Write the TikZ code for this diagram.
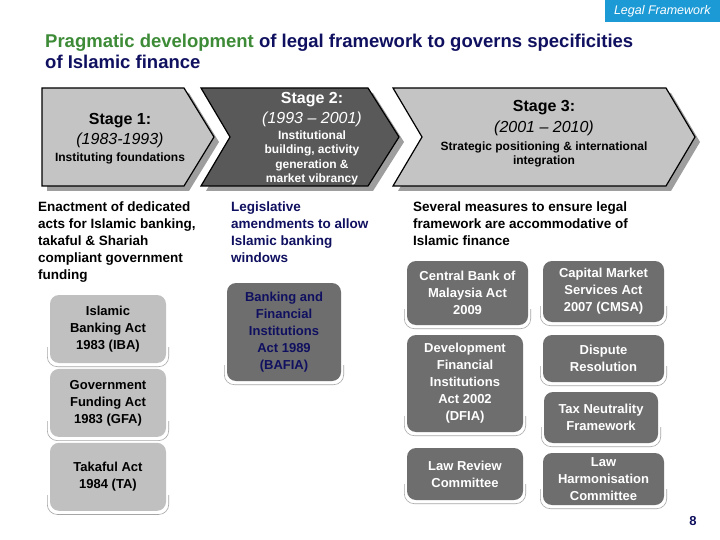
\documentclass[tikz,border=0pt]{standalone}
\usepackage{fontspec}
\setmainfont{Liberation Sans}
\usepackage{xcolor}
\usetikzlibrary{positioning, shadows, backgrounds}
\definecolor{navy}{RGB}{16,16,96}
\definecolor{leafgreen}{RGB}{61,139,55}
\definecolor{tagblue}{RGB}{28,154,214}
\definecolor{palegrey}{RGB}{196,196,196}
\definecolor{stonegrey}{RGB}{192,192,192}
\definecolor{midgrey}{RGB}{110,110,110}
\definecolor{darkgrey}{RGB}{89,89,89}

\begin{document}
\begin{tikzpicture}[x=1pt, y=-1pt, node distance=4.5pt]
    \tikzstyle{chevron} = [draw=black, line width=1.2pt, drop shadow={shadow xshift=5pt, shadow yshift=-5pt, fill=black!38, opacity=1}]
    \tikzstyle{stagetext} = [align=center, inner sep=0pt, font=\fontsize{16}{20}\selectfont]
    \tikzstyle{lead} = [anchor=north west, align=left, inner sep=0pt, font=\fontsize{13.5}{16.8}\selectfont\bfseries]
    \tikzstyle{act} = [rectangle, rounded corners=9pt, minimum width=116pt, minimum height=69pt, align=center, inner sep=2pt, font=\fontsize{13}{17}\selectfont\bfseries,
        append after command={\pgfextra{\begin{pgfonlayer}{background}
            \draw [black!35, line width=0.6pt, fill=white, rounded corners=10pt] ([xshift=-2.5pt, yshift=16pt]\tikzlastnode.south west) -- ([xshift=-2.5pt, yshift=-3.5pt]\tikzlastnode.south west) -- ([xshift=2.5pt, yshift=-3.5pt]\tikzlastnode.south east) -- ([xshift=2.5pt, yshift=16pt]\tikzlastnode.south east);
        \end{pgfonlayer}}}]
    \tikzstyle{measure} = [act, fill=midgrey, text=white]

    \useasboundingbox (0,0) rectangle (720,540);
    \begin{pgfonlayer}{background}
        \fill [white] (0,0) rectangle (720,540);
    \end{pgfonlayer}

    \node [fill=tagblue, text=white, font=\fontsize{12.5}{14}\selectfont\itshape, minimum width=115pt, minimum height=22pt, inner sep=0pt, anchor=north east] (tag) at (720,0) {Legal Framework};
    \node [anchor=north west, align=left, inner sep=0pt, text=navy, font=\fontsize{18.5}{21}\selectfont\bfseries] (title) at (45,33.5) {\textcolor{leafgreen}{Pragmatic development} of legal framework to governs specificities\\of Islamic finance};

    \filldraw [chevron, fill=palegrey] (42,88) -- (184,88) -- (214,137) -- (184,186) -- (42,186) -- cycle;
    \filldraw [chevron, fill=darkgrey] (201,88) -- (368,88) -- (399,137) -- (368,186) -- (201,186) -- (230,137) -- cycle;
    \filldraw [chevron, fill=palegrey] (393,88) -- (666,88) -- (695,137) -- (666,186) -- (393,186) -- (422,137) -- cycle;

    \node [stagetext] (s1) at (120,138.5) {\textbf{Stage 1:}\\\textit{(1983-1993)}\\[-3pt]{\fontsize{12}{14}\selectfont\bfseries Instituting foundations}};
    \node [stagetext, text=white] (s2) at (312,138.5) {\textbf{Stage 2:}\\\textit{(1993 -- 2001)}\\[-4pt]{\fontsize{12}{14}\selectfont\bfseries Institutional}\\[-6pt]{\fontsize{12}{14}\selectfont\bfseries building, activity}\\[-5.5pt]{\fontsize{12}{14}\selectfont\bfseries generation \&}\\[-6pt]{\fontsize{12}{14}\selectfont\bfseries market vibrancy}};
    \node [stagetext] (s3) at (544,133.5) {\textbf{Stage 3:}\\[1pt]\textit{(2001 -- 2010)}\\[-2pt]{\fontsize{12}{14}\selectfont\bfseries Strategic positioning \& international}\\[-6pt]{\fontsize{12}{14}\selectfont\bfseries integration}};

    \node [lead] (enact) at (38,202) {Enactment of dedicated\\acts for Islamic banking,\\takaful \& Shariah\\compliant government\\funding};
    \node [lead, text=navy] (amend) at (231,202) {Legislative\\amendments to allow\\Islamic banking\\windows};
    \node [lead] (measures) at (413,202) {Several measures to ensure legal\\framework are accommodative of\\Islamic finance};

    \node [act, fill=stonegrey, minimum height=68pt] (iba) at (108,329) {Islamic\\Banking Act\\1983 (IBA)};
    \node [act, fill=stonegrey, minimum height=68pt, below=5.5pt of iba] (gfa) {Government\\Funding Act\\1983 (GFA)};
    \node [act, fill=stonegrey, minimum height=68pt, below=5.5pt of gfa] (ta) {Takaful Act\\1984 (TA)};

    \node [act, fill=midgrey, text=navy, minimum width=114pt, minimum height=98pt] (bafia) at (284,332) {Banking and\\Financial\\Institutions\\Act 1989\\(BAFIA)};

    \node [measure, minimum width=121pt, minimum height=64pt] (cbma) at (467.5,293) {Central Bank of\\Malaysia Act\\2009};
    \node [measure, minimum width=116pt, minimum height=97pt] (dfia) at (465,383.5) {Development\\Financial\\Institutions\\Act 2002\\(DFIA)};
    \node [measure, minimum width=116pt, minimum height=52pt] (lrc) at (465,474) {Law Review\\Committee};
    \node [measure, minimum width=121pt, minimum height=61pt] (cmsa) at (603.5,291.5) {Capital Market\\Services Act\\2007 (CMSA)};
    \node [measure, minimum width=121pt, minimum height=47pt] (dispute) at (603.5,358.5) {Dispute\\Resolution};
    \node [measure, minimum width=114pt, minimum height=51pt] (tax) at (601,417.5) {Tax Neutrality\\Framework};
    \node [measure, minimum width=121pt, minimum height=52pt] (lhc) at (603.5,479) {Law\\Harmonisation\\Committee};

    \node [text=navy, font=\fontsize{13}{15}\selectfont\bfseries] (page) at (693,521) {8};
\end{tikzpicture}
\end{document}
